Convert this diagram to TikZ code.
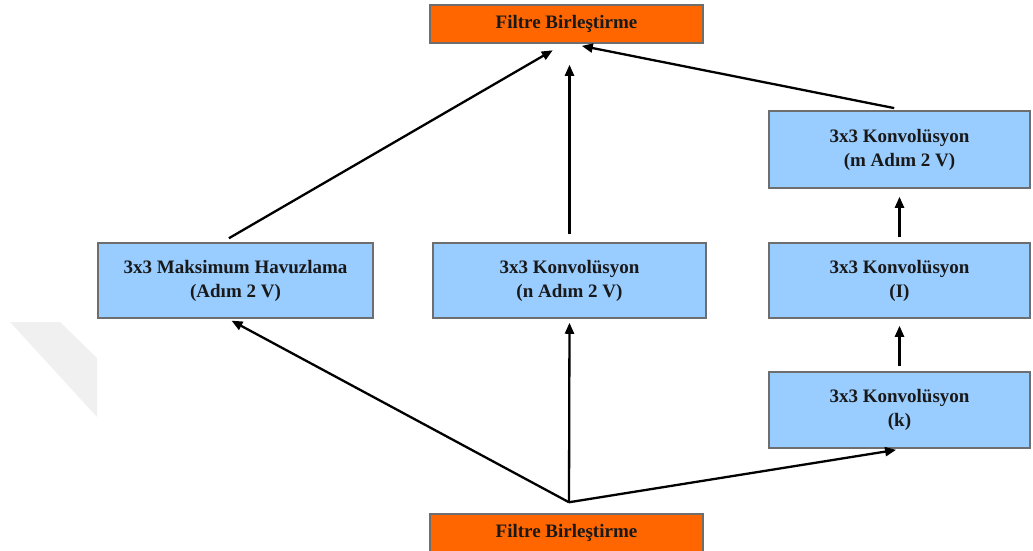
\documentclass[tikz,border=0pt]{standalone}
\usepackage{fontspec}
\setmainfont{Liberation Serif}
\usetikzlibrary{arrows.meta,calc}
\definecolor{boxblue}{HTML}{99CCFF}
\definecolor{boxorange}{HTML}{FF6600}
\definecolor{boxedge}{HTML}{6E6E6E}
\begin{document}
\begin{tikzpicture}[x=1pt,y=-1pt,
  block/.style={draw=boxedge, line width=1.5pt, rectangle, align=center,
    font=\fontsize{19}{24}\selectfont\bfseries, text=black!90, inner sep=0pt},
  bluebox/.style={block, fill=boxblue, minimum height=75pt},
  orangebox/.style={block, fill=boxorange, minimum width=273pt, minimum height=38pt},
  link/.style={line width=2.3pt, -{Triangle[length=11pt,width=9pt]}}]
\useasboundingbox (0,0) rectangle (1033,550);
\clip (0,0) rectangle (1033,550);
% faint mark in the left margin
\fill[black!6] (10,322) -- (60,322) -- (97,358) -- (97,417) -- cycle;

% blocks
\node[orangebox] (top) at (566.5,24) {Filtre Birleştirme};
\node[orangebox] (bot) at (566.5,533) {Filtre Birleştirme};
\node[bluebox, minimum width=275pt] (pool) at (235.5,280.5) {3x3 Maksimum Havuzlama\\(Adım 2 V)};
\node[bluebox, minimum width=273pt] (conv) at (569.5,280.5) {3x3 Konvolüsyon\\(n Adım 2 V)};
\node[bluebox, minimum width=261pt, minimum height=77pt] (cm) at (899.5,149.5) {3x3 Konvolüsyon\\(m Adım 2 V)};
\node[bluebox, minimum width=261pt] (cl) at (899.5,280.5) {3x3 Konvolüsyon\\(I)};
\node[bluebox, minimum width=261pt, minimum height=76pt] (ck) at (899.5,410) {3x3 Konvolüsyon\\(k)};

% fan-out point above the lower block
\coordinate (split) at ($(bot.north)+(2.5,-11)$);

% lower connectors
\draw[link, shorten >=4pt] (split) -- ([xshift=-7.5pt]pool.south);
\draw[link, shorten >=4pt] (split) -- (conv.south);
\draw[link, shorten >=7pt] (split) -- ([xshift=3.5pt]ck.south);

% right column
\draw[link, shorten <=5pt, shorten >=7pt] (ck.north) -- (cl.south);
\draw[link, shorten <=5pt, shorten >=8pt] (cl.north) -- (cm.south);

% upper connectors
\draw[link, shorten <=8pt, shorten >=13pt] ([xshift=-13.5pt]pool.north) -- ([xshift=-2.5pt]top.south);
\draw[link, shorten <=8pt, shorten >=21pt] (conv.north) -- (conv.north |- top.south);
\draw[link, shorten <=11pt, shorten >=11pt] ([xshift=5.5pt]cm.north) -- ([xshift=4.5pt]top.south);
\end{tikzpicture}
\end{document}
